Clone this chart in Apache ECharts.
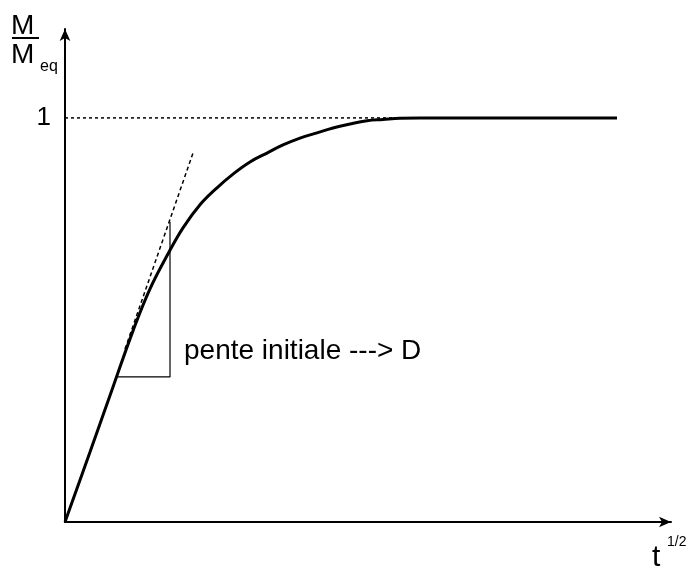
<!DOCTYPE html>
<html>
<head>
<meta charset="utf-8">
<script src="https://cdn.jsdelivr.net/npm/echarts@6/dist/echarts.min.js"></script>
<style>
  html, body { margin: 0; padding: 0; background: #fff; }
  #chart { width: 688px; height: 572px; }
</style>
</head>
<body>
<div id="chart"></div>
<script>
// uptake curve M/Meq vs sqrt(t)
const curveX = [0, 0.25, 0.48, 0.68, 0.85, 1.04, 1.18, 1.35, 1.52, 1.68, 1.85, 2.02, 2.18, 2.35, 2.52, 2.68, 2.85, 3.02, 3.18, 3.35, 3.55, 4.2, 5.52];
const curveY = [0, 0.173, 0.334, 0.473, 0.577, 0.668, 0.728, 0.785, 0.827, 0.861, 0.891, 0.913, 0.933, 0.950, 0.963, 0.975, 0.985, 0.993, 0.996, 0.999, 1, 1, 1];

// equilibrium level (dotted)
const plateauX = [0, 3.4];
const plateauY = [1, 1];

// initial slope tangent (dashed)
const tangentX = [0.6, 1.28];
const tangentY = [0.428, 0.913];

// slope triangle
const triangleX = [0.53, 1.05, 1.05];
const triangleY = [0.359, 0.359, 0.743];

const yTickLabels = ['1'];
const noteText = 'pente initiale ---> D';

const zip = (xs, ys) => xs.map((x, i) => [x, ys[i]]);

const font = '"Liberation Sans", Arial, Helvetica, sans-serif';

const chart = echarts.init(document.getElementById('chart'));

chart.setOption({
  backgroundColor: '#fff',
  animation: false,
  grid: {
    left: 65,
    right: 17,
    top: 29,
    bottom: 50,
    outerBoundsMode: 'none',
  },
  xAxis: {
    type: 'value',
    min: 0,
    max: 6.06,
    axisLine: {
      lineStyle: { color: '#000', width: 2 },
      symbol: ['none', 'arrow'],
      symbolSize: [8, 12],
    },
    axisTick: { show: false },
    axisLabel: { show: false },
    splitLine: { show: false },
  },
  yAxis: {
    type: 'value',
    min: 0,
    max: 1.22,
    interval: 1,
    axisLine: {
      lineStyle: { color: '#000', width: 2 },
      symbol: ['none', 'arrow'],
      symbolSize: [8, 12],
    },
    axisTick: { show: false },
    axisLabel: {
      color: '#000',
      fontFamily: font,
      fontSize: 26,
      margin: 14,
      formatter: (v) => (v === 1 ? yTickLabels[0] : ''),
    },
    splitLine: { show: false },
  },
  graphic: [
    { type: 'text', left: 11, top: 12, style: { text: 'M', fontFamily: font, fontSize: 28, fill: '#000' } },
    { type: 'rect', left: 12, top: 37, shape: { width: 27, height: 2 }, style: { fill: '#000' } },
    { type: 'text', left: 11, top: 41, style: { text: 'M', fontFamily: font, fontSize: 28, fill: '#000' } },
    { type: 'text', left: 40, top: 59, style: { text: 'eq', fontFamily: font, fontSize: 16, fill: '#000' } },
    { type: 'text', left: 652, top: 543, style: { text: 't', fontFamily: font, fontSize: 30, fill: '#000' } },
    { type: 'text', left: 667, top: 535, style: { text: '1/2', fontFamily: font, fontSize: 14, fill: '#000' } },
    { type: 'text', left: 184, top: 337, style: { text: noteText, fontFamily: font, fontSize: 28, fill: '#000' } },
  ],
  series: [
    {
      type: 'line',
      data: zip(plateauX, plateauY),
      symbol: 'none',
      lineStyle: { color: '#000', width: 1.5, type: [3, 3] },
      z: 2,
    },
    {
      type: 'line',
      data: zip(tangentX, tangentY),
      symbol: 'none',
      lineStyle: { color: '#000', width: 1.5, type: [4, 3] },
      z: 2,
    },
    {
      type: 'line',
      data: zip(triangleX, triangleY),
      symbol: 'none',
      lineStyle: { color: '#000', width: 1.2 },
      z: 2,
    },
    {
      type: 'line',
      data: zip(curveX, curveY),
      symbol: 'none',
      smooth: 0.4,
      lineStyle: { color: '#000', width: 3 },
      z: 3,
    },
  ],
});
</script>
</body>
</html>
